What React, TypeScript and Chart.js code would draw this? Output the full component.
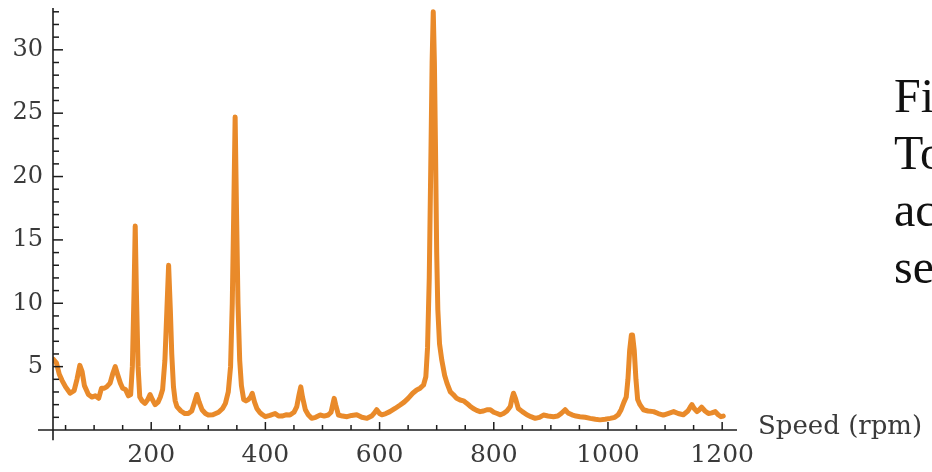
import React, { useEffect, useRef } from "react";
import { Chart, registerables } from "chart.js";

Chart.register(...registerables);

// Speed (rpm) and amplitude
const speeds = [
  28, 34, 39, 44, 50, 58, 65, 70, 75, 79, 83, 90, 96, 102, 108, 113, 118, 122, 128, 133,
  137, 141, 146, 150, 155, 160, 164, 167, 170, 172, 174, 177, 180, 184, 189, 194, 198, 202, 207, 212,
  216, 220, 224, 227.5, 230.5, 233.5, 236, 239, 242, 245, 252, 259, 265, 271, 276, 280, 284, 289, 295, 300,
  308, 318, 325, 330, 335, 339, 342, 344.5, 347, 349.5, 352, 355, 358, 362, 366, 370, 374, 377, 381, 385,
  390, 395, 400, 408, 417, 423, 429, 436, 443, 450, 455, 459, 462, 465, 470, 475, 481, 488, 496, 503,
  510, 515, 518, 520.5, 523, 528, 535, 543, 551, 560, 569, 578, 586, 591, 595, 600, 604, 611, 618, 627,
  636, 643, 650, 658, 665, 671, 677, 681, 684, 687, 690, 692, 694, 696, 698, 700, 702, 705, 709, 714,
  718, 724, 729, 735, 741, 747, 753, 758, 764, 770, 776, 782, 788, 794, 800, 806, 811, 817, 823, 829,
  832, 834.5, 838, 843, 850, 858, 865, 872.5, 880, 887, 895, 904.5, 912, 918, 925, 930, 937, 944, 951, 960,
  969, 978, 986, 995, 1004, 1012, 1018, 1023, 1028, 1032, 1035, 1038, 1041, 1043, 1046, 1049, 1052, 1056, 1062, 1070,
  1080, 1088, 1097, 1105, 1115, 1123, 1132, 1140, 1144, 1147, 1151, 1156, 1160, 1164, 1170, 1176, 1182, 1188, 1193, 1198,
  1202,
];
const amplitudes = [
  5.6, 5.3, 4.4, 3.9, 3.4, 2.9, 3.1, 4.0, 5.1, 4.6, 3.5, 2.8, 2.6, 2.7, 2.5, 3.3, 3.3, 3.4, 3.7, 4.5,
  5.0, 4.4, 3.7, 3.3, 3.2, 2.7, 2.8, 5.0, 11.0, 16.1, 11.0, 5.0, 2.6, 2.3, 2.1, 2.4, 2.8, 2.4, 2.0, 2.2,
  2.6, 3.2, 5.5, 9.5, 13.0, 9.5, 6.0, 3.4, 2.3, 1.85, 1.5, 1.3, 1.3, 1.5, 2.2, 2.8, 2.2, 1.6, 1.3, 1.18,
  1.2, 1.4, 1.7, 2.1, 3.0, 5.0, 10.0, 17.0, 24.7, 17.0, 10.0, 5.5, 3.5, 2.4, 2.3, 2.4, 2.6, 2.9, 2.2, 1.7,
  1.4, 1.2, 1.05, 1.15, 1.3, 1.1, 1.1, 1.2, 1.18, 1.4, 1.85, 2.8, 3.4, 2.6, 1.6, 1.2, 0.92, 1.0, 1.18, 1.1,
  1.18, 1.4, 2.0, 2.5, 2.0, 1.18, 1.1, 1.05, 1.15, 1.2, 1.0, 0.92, 1.1, 1.35, 1.6, 1.3, 1.2, 1.3, 1.45, 1.7,
  1.97, 2.2, 2.5, 2.9, 3.16, 3.3, 3.55, 4.2, 6.5, 12.0, 22.0, 29.0, 33.0, 29.0, 22.0, 14.0, 9.5, 6.8, 5.5, 4.3,
  3.7, 3.0, 2.8, 2.5, 2.37, 2.3, 2.1, 1.9, 1.7, 1.55, 1.45, 1.5, 1.6, 1.6, 1.4, 1.3, 1.2, 1.3, 1.5, 1.85,
  2.5, 2.9, 2.5, 1.7, 1.45, 1.2, 1.05, 0.92, 1.0, 1.18, 1.1, 1.05, 1.1, 1.3, 1.6, 1.35, 1.2, 1.1, 1.05, 1.0,
  0.92, 0.85, 0.8, 0.85, 0.92, 1.0, 1.2, 1.6, 2.2, 2.6, 4.0, 6.3, 7.5, 7.5, 6.3, 4.0, 2.4, 2.0, 1.6, 1.5,
  1.45, 1.3, 1.18, 1.3, 1.45, 1.3, 1.2, 1.5, 1.8, 2.0, 1.7, 1.45, 1.6, 1.8, 1.5, 1.3, 1.35, 1.45, 1.2, 1.05,
  1.1,
];

const xTickLabels = [200, 400, 600, 800, 1000, 1200];
const xMinorTicks = [50, 100, 150, 250, 300, 350, 450, 500, 550, 650, 700, 750, 850, 900, 950, 1050, 1100, 1150];
const yTickLabels = [5, 10, 15, 20, 25, 30];
const yMinorTicks = [1, 2, 3, 4, 6, 7, 8, 9, 11, 12, 13, 14, 16, 17, 18, 19, 21, 22, 23, 24, 26, 27, 28, 29, 31, 32, 33];

const xAxisTitle = "Speed (rpm)";
const sideLines = ["Fi", "To", "ac", "se"];

const X_MIN = 28;
const X_MAX = 1226;
const Y_MIN = 0;
const Y_MAX = 33.3;

const axesPlugin = {
  id: "mmaAxes",
  afterDraw(chart: any) {
    const { ctx } = chart;
    const xs = chart.scales.x;
    const ys = chart.scales.y;
    const y0 = ys.getPixelForValue(0);
    const xLeft = xs.getPixelForValue(X_MIN);
    ctx.save();
    ctx.strokeStyle = "#1c1c1c";
    ctx.lineWidth = 1.6;
    ctx.lineCap = "butt";
    // x axis
    ctx.beginPath();
    ctx.moveTo(xs.getPixelForValue(1.7), y0);
    ctx.lineTo(xs.getPixelForValue(X_MAX), y0);
    ctx.stroke();
    // y axis
    ctx.beginPath();
    ctx.moveTo(xLeft, ys.getPixelForValue(Y_MAX));
    ctx.lineTo(xLeft, ys.getPixelForValue(-0.8));
    ctx.stroke();
    // x ticks (inward)
    ctx.lineWidth = 1.5;
    xTickLabels.forEach((v) => {
      const p = xs.getPixelForValue(v);
      ctx.beginPath();
      ctx.moveTo(p, y0);
      ctx.lineTo(p, y0 - 8);
      ctx.stroke();
    });
    xMinorTicks.forEach((v) => {
      const p = xs.getPixelForValue(v);
      ctx.beginPath();
      ctx.moveTo(p, y0);
      ctx.lineTo(p, y0 - 5);
      ctx.stroke();
    });
    // y ticks (inward)
    yTickLabels.forEach((v) => {
      const p = ys.getPixelForValue(v);
      ctx.beginPath();
      ctx.moveTo(xLeft, p);
      ctx.lineTo(xLeft + 10, p);
      ctx.stroke();
    });
    yMinorTicks.forEach((v) => {
      const p = ys.getPixelForValue(v);
      ctx.beginPath();
      ctx.moveTo(xLeft, p);
      ctx.lineTo(xLeft + 6, p);
      ctx.stroke();
    });
    // axis title to the right of the x axis
    ctx.fillStyle = "#3a3a3a";
    ctx.font = "26px 'DejaVu Serif'";
    ctx.textAlign = "left";
    ctx.textBaseline = "alphabetic";
    ctx.fillText(xAxisTitle, xs.getPixelForValue(X_MAX) + 21, y0 + 4);
    ctx.restore();
  },
};

export default function App() {
  const canvasRef = useRef<HTMLCanvasElement | null>(null);

  useEffect(() => {
    if (!canvasRef.current) return;
    const points = speeds.map((s, i) => ({ x: s, y: amplitudes[i] }));
    const chart = new Chart(canvasRef.current, {
      type: "line",
      data: {
        datasets: [
          {
            data: points,
            borderColor: "#e98a2a",
            borderWidth: 5,
            pointRadius: 0,
            tension: 0,
            borderJoinStyle: "round",
            borderCapStyle: "round",
            fill: false,
          },
        ],
      },
      options: {
        animation: false,
        responsive: false,
        devicePixelRatio: 1,
        layout: { padding: { left: 0, top: 8, right: 195, bottom: 0 } },
        plugins: {
          legend: { display: false },
          tooltip: { enabled: false },
          title: { display: false },
        },
        scales: {
          x: {
            type: "linear",
            min: X_MIN,
            max: X_MAX,
            border: { display: false },
            grid: { display: false, drawTicks: false },
            afterBuildTicks: (scale: any) => {
              scale.ticks = xTickLabels.map((v) => ({ value: v }));
            },
            afterFit: (scale: any) => {
              scale.height = 42;
              scale.paddingLeft = 0;
              scale.paddingRight = 0;
            },
            ticks: {
              padding: 10,
              maxRotation: 0,
              autoSkip: false,
              color: "#3a3a3a",
              font: { family: "'DejaVu Serif'", size: 25 },
              callback: (v: any) => String(v),
            },
          },
          y: {
            type: "linear",
            min: Y_MIN,
            max: Y_MAX,
            border: { display: false },
            grid: { display: false, drawTicks: false },
            afterBuildTicks: (scale: any) => {
              scale.ticks = yTickLabels.map((v) => ({ value: v }));
            },
            afterFit: (scale: any) => {
              scale.width = 53;
              scale.paddingTop = 0;
              scale.paddingBottom = 0;
            },
            ticks: {
              padding: 10,
              autoSkip: false,
              color: "#3a3a3a",
              font: { family: "'DejaVu Serif'", size: 24 },
              callback: (v: any) => String(v),
            },
          },
        },
      },
      plugins: [axesPlugin],
    });
    return () => chart.destroy();
  }, []);

  return (
    <div
      style={{
        position: "absolute",
        left: 0,
        top: 0,
        width: 932,
        height: 472,
        overflow: "hidden",
        background: "#ffffff",
      }}
    >
      <canvas ref={canvasRef} width={932} height={472} style={{ display: "block" }} />
      <div
        style={{
          position: "absolute",
          left: 894,
          top: 67,
          fontFamily: "'Liberation Serif', serif",
          fontSize: 48,
          lineHeight: "57px",
          color: "#111111",
          whiteSpace: "nowrap",
        }}
      >
        {sideLines.map((t) => (
          <div key={t}>{t}</div>
        ))}
      </div>
    </div>
  );
}
